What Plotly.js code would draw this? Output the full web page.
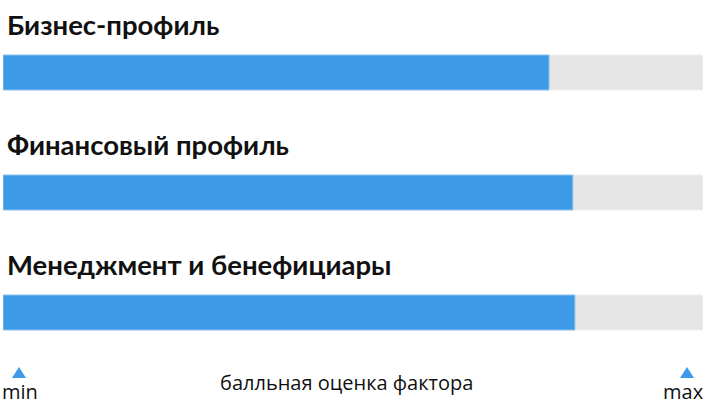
<!DOCTYPE html>
<html>
<head>
<meta charset="utf-8">
<script src="https://cdn.plot.ly/plotly-3.0.1.min.js"></script>
<style>html,body{margin:0;padding:0;background:#fff;}#chart{width:706px;height:411px;}</style>
</head>
<body>
<div id="chart"></div>
<script>
const categories = ["Бизнес-профиль", "Финансовый профиль", "Менеджмент и бенефициары"];
const scores = [78.0, 81.4, 81.7];
const maxScore = 100;
const axisLabel = "балльная оценка фактора";
const minLabel = "min";
const maxLabel = "max";

const W = 706, H = 411;
const rowPx = 120, firstCenterPx = 72.5, barPx = 35;
const rangeTop = -firstCenterPx / rowPx;
const rangeBottom = rangeTop + H / rowPx;

const traces = [
  {
    type: "bar", orientation: "h",
    y: categories, x: categories.map(() => maxScore),
    marker: {color: "#e5e5e5", line: {color: "#efefef", width: 1}},
    width: barPx / rowPx, hoverinfo: "skip", showlegend: false
  },
  {
    type: "bar", orientation: "h",
    y: categories, x: scores,
    marker: {color: "#3d9ae8", line: {color: "#8cc3f0", width: 1}},
    width: barPx / rowPx, showlegend: false
  }
];

const annotations = categories.map((c, i) => ({
  x: 0, xref: "paper", xanchor: "left", xshift: 2,
  y: i, yref: "y", yanchor: "middle", yshift: 48,
  text: "<b>" + c + "</b>", showarrow: false,
  font: {family: "Lato", size: 27.5, color: "#111111"}
}));
const py = p => (H - p) / H;
annotations.push(
  {x: 0, xref: "paper", xanchor: "left", xshift: -3, y: py(391), yref: "paper", yanchor: "middle",
   text: minLabel, showarrow: false, font: {family: "Open Sans", size: 20, color: "#111"}},
  {x: 1, xref: "paper", xanchor: "right", xshift: 3, y: py(391), yref: "paper", yanchor: "middle",
   text: maxLabel, showarrow: false, font: {family: "Open Sans", size: 20, color: "#111"}},
  {x: 346 / W, xref: "paper", xanchor: "center", y: py(382), yref: "paper", yanchor: "middle",
   text: axisLabel, showarrow: false, font: {family: "Open Sans", size: 20, color: "#111"}}
);

const tri = (cx) => {
  const x0 = (cx - 7 - 3) / 700, x1 = (cx + 7 - 3) / 700, xm = (cx - 3) / 700;
  return {type: "path", xref: "paper", yref: "paper",
    path: `M ${x0} ${py(378)} L ${x1} ${py(378)} L ${xm} ${py(367)} Z`,
    fillcolor: "#3d9ae8", line: {width: 0}};
};

const layout = {
  width: W, height: H,
  margin: {l: 3, r: 3, t: 0, b: 0, pad: 0},
  paper_bgcolor: "#ffffff", plot_bgcolor: "#ffffff",
  barmode: "overlay", bargap: 0,
  xaxis: {range: [0, maxScore], visible: false, fixedrange: true},
  yaxis: {type: "category", range: [rangeBottom, rangeTop], visible: false, fixedrange: true},
  annotations: annotations,
  shapes: [tri(19), tri(687)],
  showlegend: false
};

Plotly.newPlot("chart", traces, layout, {displayModeBar: false, staticPlot: true});
</script>
</body>
</html>
